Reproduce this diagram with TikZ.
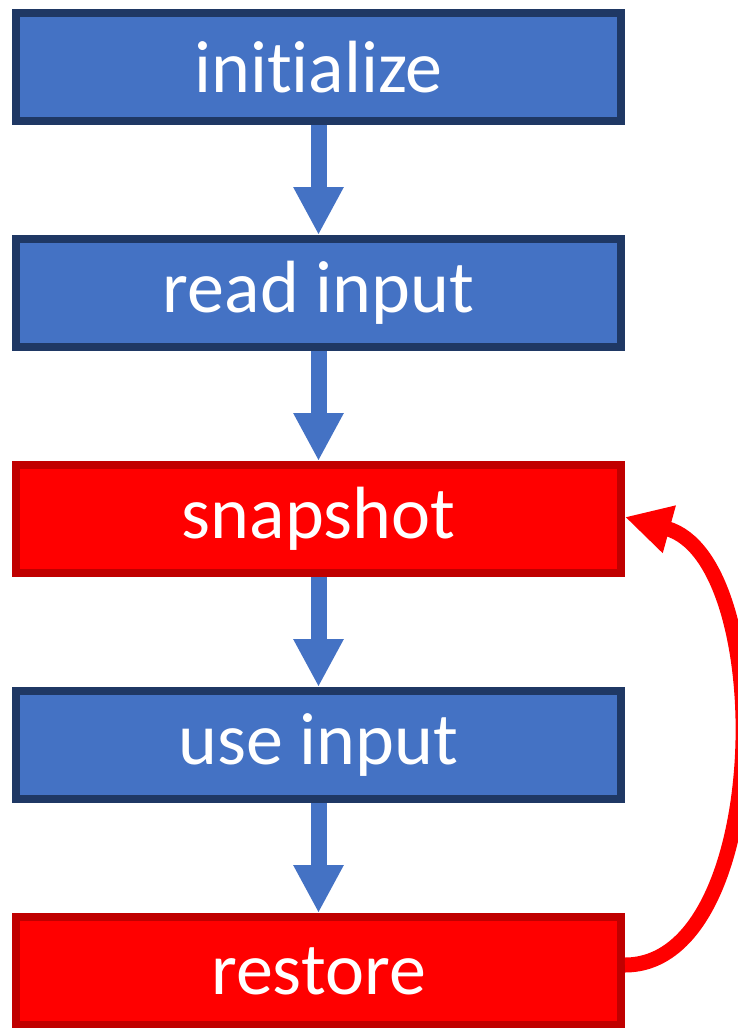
\documentclass[tikz,border=0pt]{standalone}
\usepackage{fontspec}
\setmainfont[Ligatures=NoCommon]{Carlito}
\usetikzlibrary{positioning,arrows.meta}
\definecolor{boxblue}{HTML}{4472C4}
\definecolor{boxnavy}{HTML}{1F3864}
\definecolor{boxred}{HTML}{FF0000}
\definecolor{boxdarkred}{HTML}{C00000}
\begin{document}
\begin{tikzpicture}[stage/.style={rectangle,draw=boxnavy,fill=boxblue,line
        width=4pt,minimum width=302.5pt,minimum height=54pt,inner sep=0pt,
        text=white,font=\fontsize{37}{44}\selectfont},
        redstage/.style={stage,draw=boxdarkred,fill=boxred},
        flow/.style={-{Triangle[length=24pt,width=23.5pt]},line width=8pt,boxblue},
        node distance=55pt]

    \useasboundingbox (0,0) rectangle (369pt,-514pt);

    % the boxes

    \node[stage] (init) at (159.25pt,-33.5pt) {initialize};
    \node[stage,below=of init] (read) {read input};
    \node[redstage,below=of read] (snap) {snapshot};
    \node[stage,below=of snap] (use) {use input};
    \node[redstage,below=of use] (restore) {restore};

    \draw[flow] (init) to (read);
    \draw[flow] (read) to (snap);
    \draw[flow] (snap) to (use);
    \draw[flow] (use) to (restore);

    % the loop back
    \draw[-{Triangle[length=23pt,width=23pt]},line width=7.5pt,boxred]
    ([yshift=3pt]restore.east) .. controls +(73.5pt,0pt) and
    +(76pt,-21pt) .. ([yshift=1pt]snap.east);
  \end{tikzpicture}
\end{document}
